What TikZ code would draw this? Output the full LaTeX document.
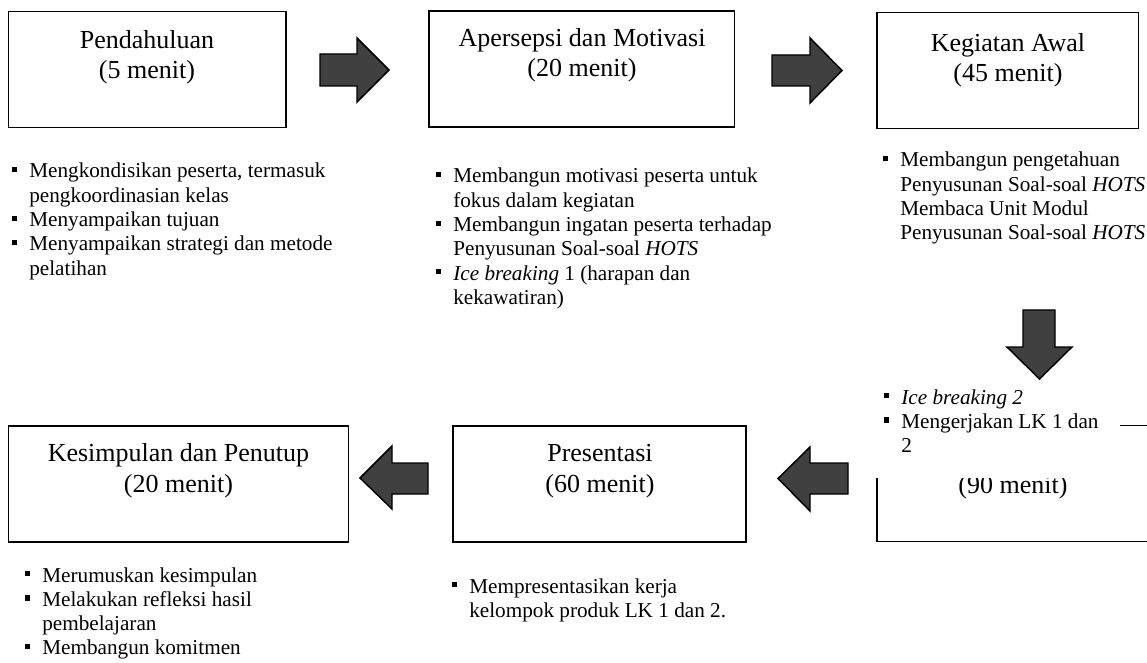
\documentclass[tikz,border=0pt]{standalone}
\usepackage{fontspec}
\setmainfont{Liberation Serif}
\usetikzlibrary{positioning}
\newcommand{\bul}{\rule[4.3pt]{3.8pt}{3.8pt}}
\newenvironment{butir}{\begin{tabular}[t]{@{}l@{\hspace{9pt}}l@{}}}{\end{tabular}}

\begin{document}
\begin{tikzpicture}[x=0.75pt, y=-0.75pt,
	box/.style={draw, line width=0.8pt, inner sep=0pt, minimum height=87pt},
	title/.style={align=center, anchor=base, inner sep=0pt, font=\fontsize{19.5}{23}\selectfont},
	notes/.style={anchor=base west, inner sep=0pt, font=\fontsize{15.9}{18.2}\selectfont},
	blok/.style={draw, line width=1.1pt, fill=black!75, line join=miter}]
	\useasboundingbox (0,0) rectangle (1147,663);
	\clip (0,0) rectangle (1147,663);
	% top row
	\node [box, minimum width=208.1pt] (pend) at (147.25,69.5) {};
	\node [box, minimum width=229.1pt] (aper) at (581.75,69) {};
	\node [box, minimum width=196.1pt] (awal) at (1007.75,70.75) {};
	\node [title] (pendT) at (147,79) {Pendahuluan\\(5 menit)};
	\node [title] (aperT) at (582,77) {Apersepsi dan Motivasi\\(20 menit)};
	\node [title] (awalT) at (1008,82) {Kegiatan Awal\\(45 menit)};
	\node [notes] (pendN) at (12,178) {\begin{butir}
		\bul & Mengkondisikan peserta, termasuk\\
		& pengkoordinasian kelas\\
		\bul & Menyampaikan tujuan\\
		\bul & Menyampaikan strategi dan metode\\
		& pelatihan
	\end{butir}};
	\node [notes] (aperN) at (436,183) {\begin{butir}
		\bul & Membangun motivasi peserta untuk\\
		& fokus dalam kegiatan\\
		\bul & Membangun ingatan peserta terhadap\\
		& Penyusunan Soal-soal \textit{HOTS}\\
		\bul & \textit{Ice breaking} 1 (harapan dan\\
		& kekawatiran)
	\end{butir}};
	\node [notes] (awalN) at (883,167) {\begin{butir}
		\bul & Membangun pengetahuan\\
		& Penyusunan Soal-soal \textit{HOTS}\\
		& Membaca Unit Modul\\
		& Penyusunan Soal-soal \textit{HOTS}
	\end{butir}};
	% bottom row
	\node [box, minimum width=204.75pt] (kerja) at (1013.5,483.75) {};
	\node [box, minimum width=219.75pt] (pres) at (599.5,484) {};
	\node [box, minimum width=255pt] (kesim) at (178.5,484) {};
	\node [title] (kerjaT) at (1013,493) {(90 menit)};
	\node [title] (presT) at (600,492) {Presentasi\\(60 menit)};
	\node [title] (kesimT) at (178.5,492) {Kesimpulan dan Penutup\\(20 menit)};
	\fill [white] (860,382) rectangle (1120,478);
	\node [notes] (kerjaN) at (884,404) {\begin{butir}
		\bul & \textit{Ice breaking 2}\\
		\bul & Mengerjakan LK 1 dan\\
		& 2
	\end{butir}};
	\node [notes] (presN) at (452,593) {\begin{butir}
		\bul & Mempresentasikan kerja\\
		& kelompok produk LK 1 dan 2.
	\end{butir}};
	\node [notes] (kesimN) at (25,582) {\begin{butir}
		\bul & Merumuskan kesimpulan\\
		\bul & Melakukan refleksi hasil\\
		& pembelajaran\\
		\bul & Membangun komitmen
	\end{butir}};
	% block arrows
	\draw [blok] (320,54) -- (357,54) -- (357,38) -- (389,70) -- (357,102) -- (357,86) -- (320,86) -- cycle;
	\draw [blok] (772,55) -- (810,55) -- (810,38) -- (842,70.5) -- (810,103) -- (810,86) -- (772,86) -- cycle;
	\draw [blok] (1023,310) -- (1055,310) -- (1055,347) -- (1072,347) -- (1039.5,379) -- (1007,347) -- (1023,347) -- cycle;
	\draw [blok] (848,463) -- (810,463) -- (810,447) -- (778,478.5) -- (810,511) -- (810,494) -- (848,494) -- cycle;
	\draw [blok] (428,463) -- (392,463) -- (392,446) -- (360,478) -- (392,509) -- (392,494) -- (428,494) -- cycle;
\end{tikzpicture}
\end{document}
